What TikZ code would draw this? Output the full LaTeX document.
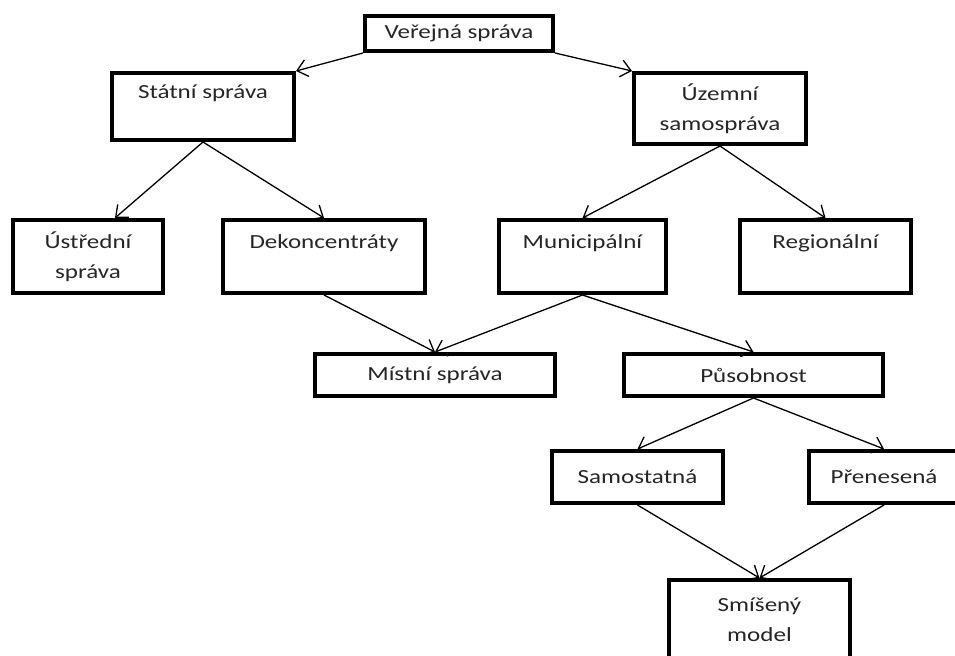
\documentclass[tikz,border=0pt]{standalone}
\usepackage{fontspec}
\setmainfont{Carlito}[FakeStretch=1.25]
\usetikzlibrary{arrows.meta}

\begin{document}
\begin{tikzpicture}[x=0.2mm, y=-0.2mm,
    box/.style={draw, line width=0.8mm, inner sep=0pt, align=center,
        text=black!85, font=\fontsize{11.4pt}{17pt}\selectfont},
    link/.style={line width=0.26mm, -{Straight Barb[length=2mm,width=3.4mm]}}]
    \clip (0,0) rectangle (955,656);
    \fill[white] (0,0) rectangle (955,656);

    \node[box, minimum width=37.6mm, minimum height=7mm] (ver) at (459,33.5) {Veřejná správa};
    \node[box, minimum width=36.4mm, minimum height=13.4mm] (stat) at (203,106.5) {Státní správa\\~};
    \node[box, minimum width=34.4mm, minimum height=14.2mm] (uzem) at (720,108.5) {Územní\\samospráva};

    \node[box, minimum width=30mm, minimum height=14.6mm] (ustr) at (88,256.5) {Ústřední\\správa};
    \node[box, minimum width=40.4mm, minimum height=14.6mm] (dek) at (324,256.5) {Dekoncentráty\\~};
    \node[box, minimum width=33.4mm, minimum height=14.6mm] (mun) at (582.5,256.5) {Municipální\\~};
    \node[box, minimum width=34.2mm, minimum height=14.6mm] (reg) at (825.5,256.5) {Regionální\\~};

    \node[box, minimum width=48mm, minimum height=8.4mm] (mist) at (435,375) {Místní správa};
    \node[box, minimum width=51.8mm, minimum height=8.4mm] (pus) at (753.5,375) {Působnost};

    \node[box, minimum width=34.2mm, minimum height=10.4mm] (sam) at (637.5,477) {Samostatná};
    \node[box, minimum width=30mm, minimum height=10.4mm] (pren) at (884,477) {Přenesená};
    \node[box, minimum width=36.2mm, minimum height=16mm] (smis) at (759.5,620) {Smíšený\\model};

    \draw[link] (ver.south west) -- (stat.north east);
    \draw[link] (ver.south east) -- (uzem.north west);
    \draw[link] (stat.south) -- (ustr.55);
    \draw[link] (stat.south) -- (dek.north);
    \draw[link] (uzem.south) -- (mun.north);
    \draw[link] (uzem.south) -- (reg.north);
    \draw[link] (dek.south) -- (mist.north);
    \draw[link] (mun.south) -- (mist.north);
    \draw[link] (mun.south) -- (pus.north);
    \draw[link] (pus.south) -- (sam.north);
    \draw[link] (pus.south) -- (pren.north);
    \draw[link] (sam.south) -- (smis.north);
    \draw[link] (pren.south) -- (smis.north);
\end{tikzpicture}
\end{document}
